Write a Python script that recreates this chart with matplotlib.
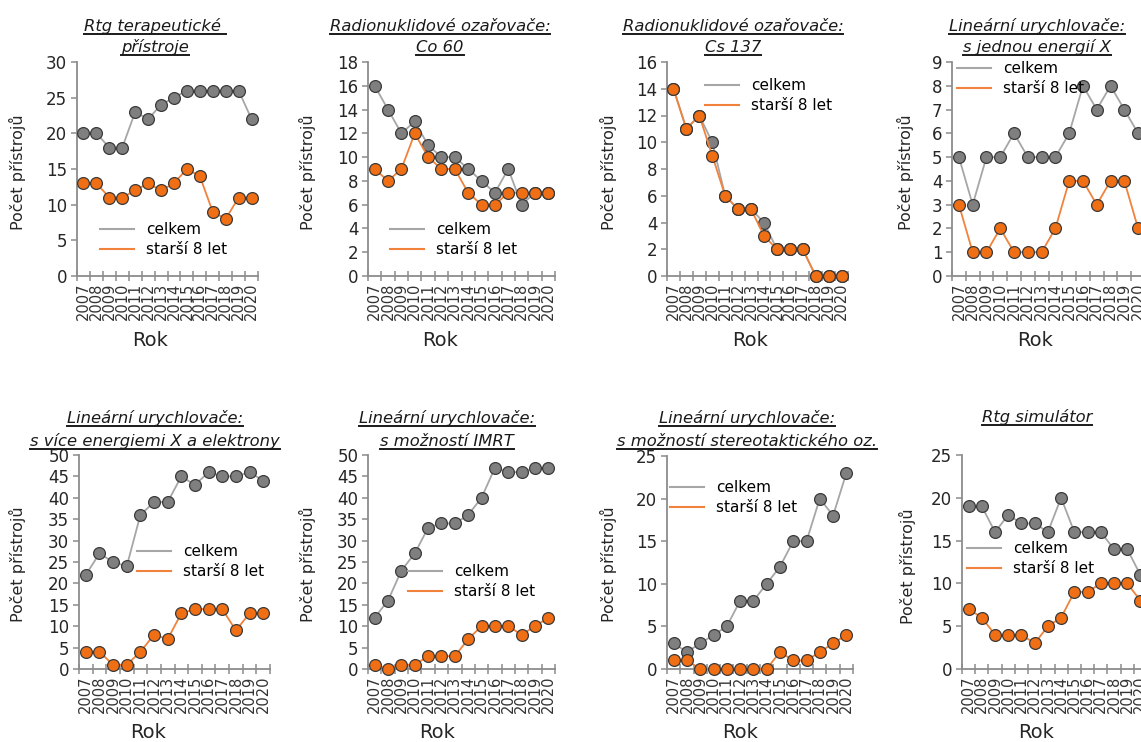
import matplotlib
matplotlib.use("Agg")
import matplotlib.pyplot as plt
from matplotlib.lines import Line2D
from matplotlib.transforms import IdentityTransform
import numpy as np

years = [str(y) for y in range(2007, 2021)]

# data per panel: (celkem, starsi 8 let)
rtg_ter_total = [20, 20, 18, 18, 23, 22, 24, 25, 26, 26, 26, 26, 26, 22]
rtg_ter_old = [13, 13, 11, 11, 12, 13, 12, 13, 15, 14, 9, 8, 11, 11]
co60_total = [16, 14, 12, 13, 11, 10, 10, 9, 8, 7, 9, 6, 7, 7]
co60_old = [9, 8, 9, 12, 10, 9, 9, 7, 6, 6, 7, 7, 7, 7]
cs137_total = [14, 11, 12, 10, 6, 5, 5, 4, 2, 2, 2, 0, 0, 0]
cs137_old = [14, 11, 12, 9, 6, 5, 5, 3, 2, 2, 2, 0, 0, 0]
lin1_total = [5, 3, 5, 5, 6, 5, 5, 5, 6, 8, 7, 8, 7, 6]
lin1_old = [3, 1, 1, 2, 1, 1, 1, 2, 4, 4, 3, 4, 4, 2]
linmulti_total = [22, 27, 25, 24, 36, 39, 39, 45, 43, 46, 45, 45, 46, 44]
linmulti_old = [4, 4, 1, 1, 4, 8, 7, 13, 14, 14, 14, 9, 13, 13]
imrt_total = [12, 16, 23, 27, 33, 34, 34, 36, 40, 47, 46, 46, 47, 47]
imrt_old = [1, 0, 1, 1, 3, 3, 3, 7, 10, 10, 10, 8, 10, 12]
stereo_total = [3, 2, 3, 4, 5, 8, 8, 10, 12, 15, 15, 20, 18, 23]
stereo_old = [1, 1, 0, 0, 0, 0, 0, 0, 2, 1, 1, 2, 3, 4]
sim_total = [19, 19, 16, 18, 17, 17, 16, 20, 16, 16, 16, 14, 14, 11]
sim_old = [7, 6, 4, 4, 4, 3, 5, 6, 9, 9, 10, 10, 10, 8]

titles = [
    ["Rtg terapeutické ", "přístroje"],
    ["Radionuklidové ozařovače:", "Co 60"],
    ["Radionuklidové ozařovače:", "Cs 137"],
    ["Lineární urychlovače:", "s jednou energií X"],
    ["Lineární urychlovače:", "s více energiemi X a elektrony"],
    ["Lineární urychlovače:", "s možností IMRT"],
    ["Lineární urychlovače:", "s možností stereotaktického oz."],
    ["Rtg simulátor"],
]
series = [
    (rtg_ter_total, rtg_ter_old), (co60_total, co60_old),
    (cs137_total, cs137_old), (lin1_total, lin1_old),
    (linmulti_total, linmulti_old), (imrt_total, imrt_old),
    (stereo_total, stereo_old), (sim_total, sim_old),
]
ymax = [30, 18, 16, 9, 50, 50, 25, 25]
ystep = [5, 2, 2, 1, 5, 5, 5, 5]

W, H = 1141, 742
# axes boxes in pixels: x0, x1, ytop, ybottom
boxes = [(77, 258, 62, 276), (368, 555, 62, 276), (667, 848, 62, 276), (952, 1145, 62, 276),
         (79, 270, 455, 669), (368, 555, 455, 669), (667, 853, 456, 669), (962, 1147, 455, 669)]
title_x = [155, 440, 733, 1037, 155, 447, 747, 1037]
title_base = [[31, 52]] * 4 + [[423, 446]] * 3 + [[422]]
rok_pos = [(150, 340), (440, 340), (750, 340), (1035, 340),
           (148, 733), (437, 733), (740, 733), (1036, 733)]
ylab_pos = [(17, 172), (307, 172), (608, 172), (905, 172),
            (17, 564), (307, 564), (608, 564), (907, 566)]
leg_pos = [(100, 230), (390, 230), (705, 86), (957, 69),
           (137, 552), (408, 572), (670, 488), (967, 549)]

GREY_LINE = "#a6a6a6"
GREY_FILL = "#7f7f7f"
ORANGE_LINE = "#f0823c"
ORANGE_FILL = "#f06e14"
EDGE = "#3a3a3a"
SPINE = "#8c8c8c"

plt.rcParams['font.family'] = ['DejaVu Sans']
fig = plt.figure(figsize=(W / 100, H / 100), dpi=100)

def fx(px):
    return px / W

def fy(py):
    return 1 - py / H

title_texts = []
x = np.arange(len(years))
for i, (tot, old) in enumerate(series):
    x0, x1, yt, yb = boxes[i]
    ax = fig.add_axes([fx(x0), fy(yb), (x1 - x0) / W, (yb - yt) / H])
    ax.plot(x, tot, color=GREY_LINE, lw=1.3, marker="o", ms=8.5, mfc=GREY_FILL,
            mec=EDGE, mew=0.9, zorder=3, clip_on=False)
    ax.plot(x, old, color=ORANGE_LINE, lw=1.3, marker="o", ms=8.5, mfc=ORANGE_FILL,
            mec=EDGE, mew=0.9, zorder=4, clip_on=False)
    ax.set_xlim(-0.5, len(years) - 0.5)
    ax.set_ylim(0, ymax[i])
    ax.set_yticks(np.arange(0, ymax[i] + 0.1, ystep[i]))
    ax.set_xticks(x)
    ax.set_xticklabels(years, rotation=90, fontsize=10.5, color="#333333")
    ax.set_xticks(np.arange(-0.5, len(years), 1), minor=True)
    ax.tick_params(axis="x", which="major", length=0, pad=5)
    ax.tick_params(axis="x", which="minor", length=7, direction="inout", color=SPINE, width=1.1)
    ax.tick_params(axis="y", length=4, color=SPINE, width=1.1, labelsize=12,
                   labelcolor="#262626", pad=3)
    for s in ["top", "right"]:
        ax.spines[s].set_visible(False)
    for s in ["left", "bottom"]:
        ax.spines[s].set_color(SPINE)
        ax.spines[s].set_linewidth(1.3)
    ax.patch.set_alpha(0)

    handles = [Line2D([], [], color=GREY_LINE, lw=1.5), Line2D([], [], color=ORANGE_LINE, lw=1.5)]
    lx, ly = leg_pos[i]
    ax.legend(handles, ["celkem", "starší 8 let"], loc="upper left",
              bbox_to_anchor=(fx(lx), fy(ly - 8)), bbox_transform=fig.transFigure,
              frameon=False, fontsize=11, borderpad=0, borderaxespad=0,
              handlelength=2.2, handletextpad=0.8, labelspacing=0.35)

    for j, line in enumerate(titles[i]):
        t = fig.text(fx(title_x[i]), fy(title_base[i][j]), line, ha="center", va="baseline",
                     fontsize=11.8, style="italic", color="#1a1a1a")
        title_texts.append((t, title_base[i][j]))

    rx, ry = rok_pos[i]
    fig.text(fx(rx), fy(ry), "Rok", ha="center", va="center", fontsize=14, color="#262626")
    px, py = ylab_pos[i]
    fig.text(fx(px), fy(py), "Počet přístrojů", ha="center", va="center", rotation=90,
             fontsize=11.5, color="#262626")

# underline titles
fig.canvas.draw()
renderer = fig.canvas.get_renderer()
for t, base in title_texts:
    bb = t.get_window_extent(renderer)
    yline = H - base - 3
    fig.add_artist(Line2D([bb.x0, bb.x1], [yline, yline], color="#1a1a1a", lw=1.4,
                          transform=IdentityTransform()))

fig.savefig("out.png", dpi=100)
